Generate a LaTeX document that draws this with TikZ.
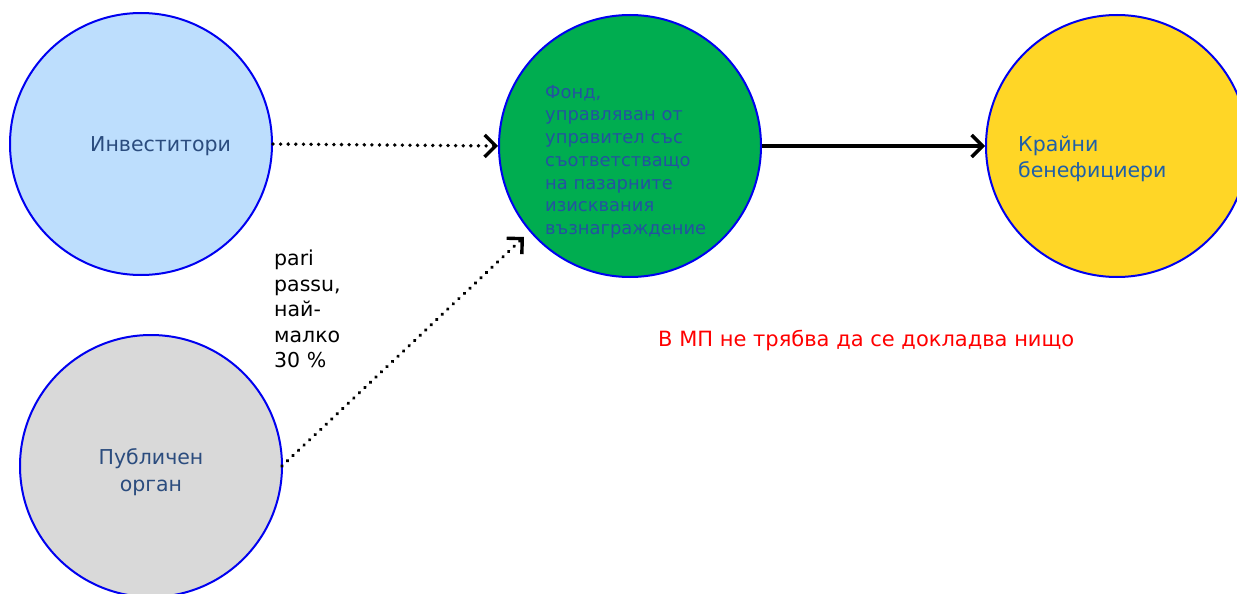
\documentclass[tikz,border=0pt]{standalone}
\usepackage{fontspec}
\setmainfont{DejaVu Sans}
\usetikzlibrary{arrows.meta}
\definecolor{circblue}{HTML}{0000F0}
\definecolor{invfill}{HTML}{BDDEFD}
\definecolor{pubfill}{HTML}{D9D9D9}
\definecolor{fundfill}{HTML}{00AD50}
\definecolor{benfill}{HTML}{FFD626}
\definecolor{txtdark}{HTML}{2B4C7E}
\definecolor{txtmid}{HTML}{1F5FA8}
\definecolor{txtfund}{HTML}{2452A0}
\tikzset{
  circ/.style={circle, draw=circblue, line width=2pt, minimum size=262pt, inner sep=0pt},
  lbl/.style={font=\fontsize{20.5}{26.5}\selectfont, align=left, inner sep=0pt},
  arr/.style={line width=3.4pt, -{Straight Barb[length=11pt,width=22pt,line width=3.4pt]}},
  dotline/.style={line width=3.8pt, line cap=round, dash pattern=on 0.01pt off 7.6pt,
    -{Straight Barb[length=11pt,width=22pt,line width=3.4pt,line cap=butt]}}
}
\begin{document}
\begin{tikzpicture}[x=1pt,y=-1pt]
\useasboundingbox (0,0) rectangle (1237,594);
\node[circ, fill=invfill] (inv) at (141,144) {};
\node[circ, fill=pubfill] (pub) at (151,466) {};
\node[circ, fill=fundfill] (fund) at (630,146) {};
\node[circ, fill=benfill] (ben) at (1117,146) {};

\node[lbl, text=txtdark, anchor=west] (invt) at (90,146) {Инвеститори};
\node[lbl, text=txtdark, align=center] (pubt) at (151,472) {Публичен\\орган};
\node[lbl, text=txtmid, anchor=west] (bent) at (1018,159) {Крайни\\бенефициери};
\node[font=\fontsize{17.9}{22.7}\selectfont, text=txtfund, align=left, inner sep=0pt, anchor=north west] (fundt) at (545,85) {Фонд,\\управляван от\\управител със\\съответстващо\\на пазарните\\изисквания\\възнаграждение};
\node[font=\fontsize{20.5}{25.5}\selectfont, align=left, inner sep=0pt, anchor=north west] (pari) at (274,250) {pari\\passu,\\най-\\малко\\30 \%};
\node[font=\fontsize{21}{24}\selectfont, text=red, inner sep=0pt, anchor=west] (note) at (658,341) {В МП не трябва да се докладва нищо};

\coordinate (pubout) at (282,466);
\coordinate (fundin) at (524,237);
\draw[dotline] (inv.east) -- (fund.west);
\draw[arr] (fund.east) -- (ben.west);
\draw[dotline] (pubout) -- (fundin);
\end{tikzpicture}
\end{document}
